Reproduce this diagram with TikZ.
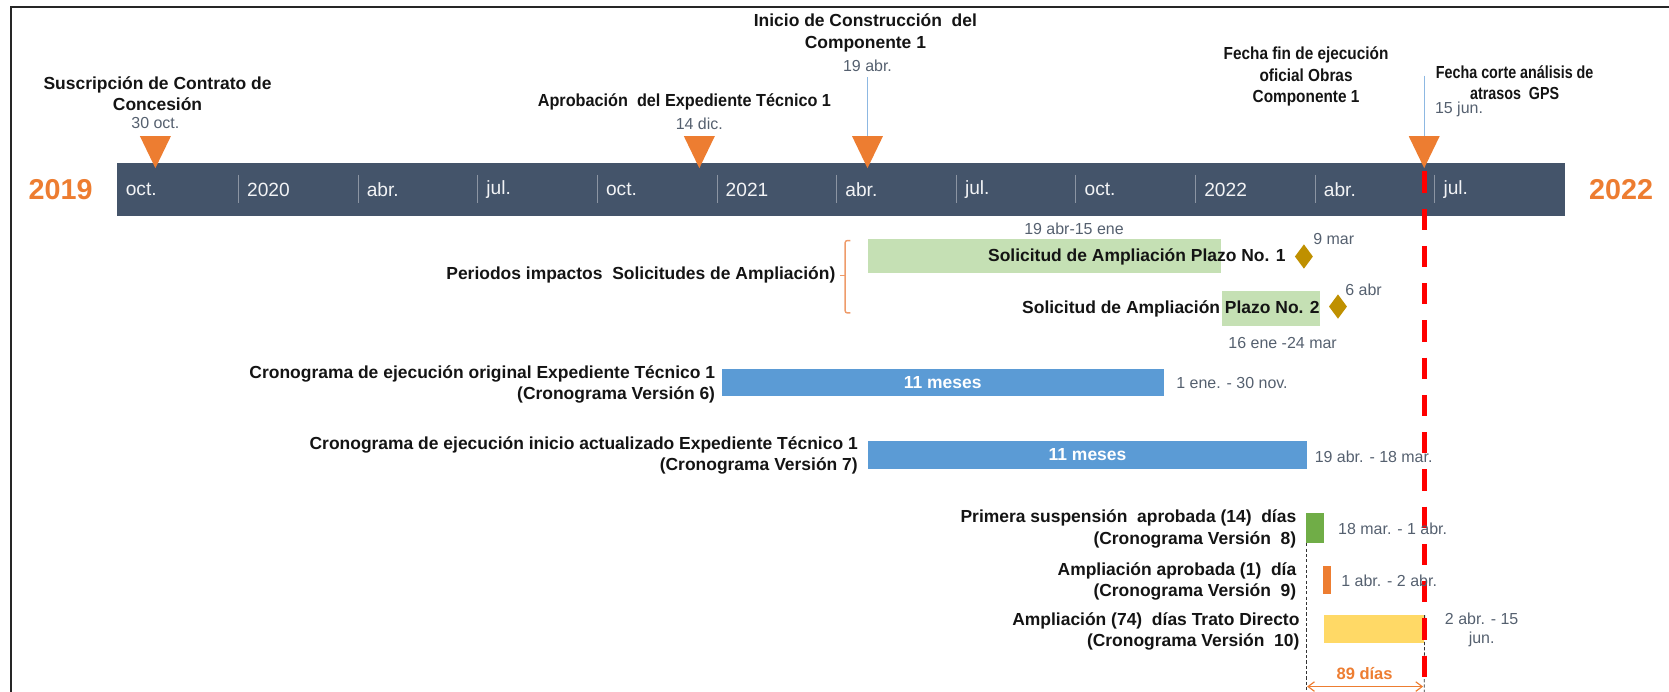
\documentclass[tikz,border=0pt]{standalone}
\usepackage{fontspec}
\setmainfont{Liberation Sans}
\newfontfamily\narrowA[FakeStretch=0.93]{Liberation Sans}
\newfontfamily\narrowB[FakeStretch=0.88]{Liberation Sans}
\newfontfamily\narrowC[FakeStretch=0.82]{Liberation Sans}
\usetikzlibrary{arrows.meta,shapes.geometric}

\definecolor{slateC}{HTML}{44546A}
\definecolor{orangeC}{HTML}{ED7D31}
\definecolor{blueC}{HTML}{5B9BD5}
\definecolor{lgreenC}{HTML}{C5E0B4}
\definecolor{greenC}{HTML}{70AD47}
\definecolor{yellowC}{HTML}{FFD966}
\definecolor{goldC}{HTML}{BF9000}
\definecolor{dateC}{HTML}{55606F}
\definecolor{inkC}{HTML}{141414}
\definecolor{braceC}{HTML}{EE9B6A}
\definecolor{stemC}{HTML}{8DB8E2}
\definecolor{sepC}{HTML}{8C95A3}

\tikzset{
  lbl/.style={font=\bfseries\fontsize{16.4}{20}\selectfont, text=inkC, inner sep=0pt},
  datelbl/.style={font=\fontsize{15}{18}\selectfont, text=dateC, inner sep=0pt},
  month/.style={font=\fontsize{18}{20}\selectfont, text=white!93!slateC, anchor=west, inner sep=0pt},
  yearlbl/.style={font=\bfseries\fontsize{27}{30}\selectfont, text=orangeC, inner sep=0pt},
  tlbar/.style={rectangle, fill=slateC, draw=none, inner sep=0pt},
  sepline/.style={draw=sepC, line width=0.9pt},
  reqbar/.style={rectangle, fill=lgreenC, inner sep=0pt, anchor=north west},
  planbar/.style={rectangle, fill=blueC, inner sep=0pt, anchor=north west,
    font=\bfseries\fontsize{16.4}{20}\selectfont, text=white},
  gem/.style={diamond, fill=goldC, inner sep=0pt, minimum width=17pt, minimum height=23pt},
  stem/.style={draw=stemC, line width=1pt},
  cutline/.style={draw=red, line width=4.6pt, dash pattern=on 20pt off 15pt},
  guide/.style={draw=black!80, line width=0.8pt, dash pattern=on 3pt off 2pt},
  span/.style={draw=orangeC, line width=1.1pt,
    {Straight Barb[length=6pt,width=9pt]}-{Straight Barb[length=6pt,width=9pt]}},
}

\begin{document}
\begin{tikzpicture}[x=1pt,y=-1pt]
\useasboundingbox (0,0) rectangle (1568,650);

% frame
\draw[line width=1.8pt, black!85] (10.3,655) -- (10.3,6.6) -- (1575,6.6);

% time axis
\node[tlbar, anchor=north west, minimum width=1360pt, minimum height=50pt] (bar) at (110,153) {};
\node[month] (m0) at (118,178) {oct.};
\foreach \i/\t in {1/2020,2/abr.,3/jul.,4/oct.,5/2021,6/abr.,7/jul.,8/oct.,9/2022,10/abr.,11/jul.} {
  \pgfmathsetmacro\sx{224+112.4*(\i-1)}
  \draw[sepline] (\sx,164) -- (\sx,191);
  \node[month] (m\i) at (\sx+8,178) {\t};
}
\node[yearlbl] (y2019) at (57,178) {2019};
\node[yearlbl] (y2022) at (1523,178) {2022};

% milestone captions
\node[lbl, align=center] (c1) at (148,88) {Suscripción de Contrato de\\Concesión};
\node[datelbl] (d1) at (146,116) {30 oct.};
\node[lbl, font=\narrowA\bfseries\fontsize{16.4}{20}\selectfont] (c2) at (643,96) {Aprobación \ del Expediente Técnico 1};
\node[datelbl] (d2) at (657,116) {14 dic.};
\node[lbl, align=center] (c3) at (813,31) {Inicio de Construcción \ del\\Componente 1};
\node[datelbl] (d3) at (815,62) {19 abr.};
\node[lbl, align=center, font=\narrowB\bfseries\fontsize{16.4}{20}\selectfont] (c4) at (1227,72) {Fecha fin de ejecución\\oficial Obras\\Componente 1};
\node[lbl, align=center, font=\narrowC\bfseries\fontsize{16.4}{20}\selectfont] (c5) at (1423,78) {Fecha corte análisis de\\atrasos \ GPS};
\node[datelbl, anchor=west] (d4) at (1348,103) {15 jun.};

% cut-off date
\draw[cutline] (1338,161) -- (1338,655);

% milestone markers
\foreach \n/\x in {t1/146,t2/657,t3/815,t4/1338} {
  \coordinate (\n) at (\x,158);
  \coordinate (top\n) at (\x,128);
  \fill[orangeC] (\x-14.5,128) -- (\x+14.5,128) -- (\n) -- cycle;
}
\coordinate (s4) at (1338,71);
\draw[stem] ([yshift=-5pt]d3.south) -- (topt3);
\draw[stem] (s4) -- (topt4);

% extension requests
\node[reqbar, minimum width=332pt, minimum height=32pt] (sa1) at (815,224) {};
\node[reqbar, minimum width=92pt, minimum height=33pt] (sa2) at (1148,273) {};
\node[lbl, anchor=east] (sa1t) at (1208,241) {Solicitud de Ampliación Plazo No. 1};
\node[lbl, anchor=east] (sa2t) at (1240,290) {Solicitud de Ampliación Plazo No. 2};
\node[datelbl] (sa1d) at (1009,215) {19 abr-15 ene};
\node[datelbl] (sa2d) at (1205,322) {16 ene -24 mar};
\node[gem] (dm1) at (1225,241) {};
\node[gem] (dm2) at (1257,288) {};
\node[datelbl] (dm1d) at (1253,225) {9 mar};
\node[datelbl] (dm2d) at (1281,272) {6 abr};

% bracket grouping the requests
\draw[braceC, line width=1.3pt, rounded corners=2pt] (799,226) -- (794,226) -- (794,294) -- (799,294);
\coordinate (brmid) at (794,259);
\coordinate (brtip) at (789,259);
\draw[braceC, line width=1.3pt] (brmid) -- (brtip);
\node[lbl, anchor=east] (per) at (785,258) {Periodos impactos \ Solicitudes de Ampliación)};

% schedules
\node[planbar, minimum width=415pt, minimum height=26pt] (v6) at (678,346) {11 meses};
\node[datelbl, anchor=west] (v6d) at (1105,360) {1 ene. - 30 nov.};
\node[lbl, anchor=east, align=right] (v6t) at (672,361) {Cronograma de ejecución original Expediente Técnico 1\\(Cronograma Versión 6)};

\node[planbar, minimum width=413pt, minimum height=26pt] (v7) at (815,414) {11 meses};
\node[datelbl, anchor=west] (v7d) at (1235,429) {19 abr. - 18 mar.};
\node[lbl, anchor=east, align=right] (v7t) at (806,428) {Cronograma de ejecución inicio actualizado Expediente Técnico 1\\(Cronograma Versión 7)};

% suspensions and extensions
\node[rectangle, fill=greenC, inner sep=0pt, anchor=north west, minimum width=17pt, minimum height=28pt] (s8) at (1227,482) {};
\node[datelbl, anchor=west] (s8d) at (1257,497) {18 mar. - 1 abr.};
\node[lbl, anchor=east, align=right] (s8t) at (1218,497) {Primera suspensión \ aprobada (14) \ días\\(Cronograma Versión \ 8)};

\node[rectangle, fill=orangeC, inner sep=0pt, anchor=north west, minimum width=7.5pt, minimum height=26pt] (s9) at (1243,532) {};
\node[datelbl, anchor=west] (s9d) at (1260,546) {1 abr. - 2 abr.};
\node[lbl, anchor=east, align=right] (s9t) at (1218,546) {Ampliación aprobada (1) \ día\\(Cronograma Versión \ 9)};

\node[rectangle, fill=yellowC, inner sep=0pt, anchor=north west, minimum width=94pt, minimum height=26pt] (s10) at (1244,578) {};
\node[datelbl, align=center] (s10d) at (1392,592) {2 abr. - 15\\jun.};
\node[lbl, anchor=east, align=right] (s10t) at (1221,593) {Ampliación (74) \ días Trato Directo\\(Cronograma Versión \ 10)};

% 89-day span
\coordinate (g1) at (1227,655);
\coordinate (g2) at (1338,655);
\draw[guide] (s8.south west) -- (g1);
\draw[guide] (s10.north east) -- (g2);
\coordinate (a1) at (1228,645);
\coordinate (a2) at (1337,645);
\draw[span] (a1) -- (a2);
\node[font=\bfseries\fontsize{15.5}{18}\selectfont, text=orangeC, inner sep=0pt] (span) at (1282,633) {89 días};

% cut line over the bars
\draw[cutline] (1338,581) -- (1338,655);
\end{tikzpicture}
\end{document}
